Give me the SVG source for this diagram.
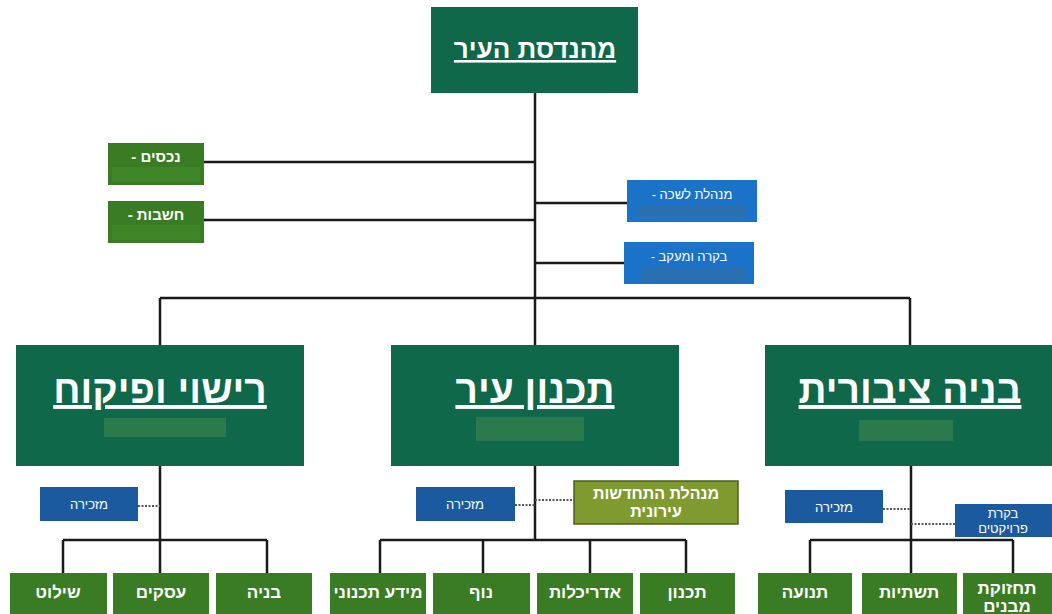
<svg xmlns="http://www.w3.org/2000/svg" width="1052" height="614" viewBox="0 0 1052 614">
<style>
text{font-family:"Liberation Sans","DejaVu Sans",sans-serif;fill:#ffffff;text-anchor:middle;direction:rtl;font-weight:bold}
.main{fill:#0f684a}
.sub{fill:#3a7c24}
.blue1{fill:#1b72c9}
.blue2{fill:#1c5a9f}
.olive{fill:#7f9b2f;stroke:#4b5e1d;stroke-width:1.5}
.line{stroke:#1a1a1a;stroke-width:2.5;fill:none}
.dot{stroke:#555;stroke-width:2;stroke-dasharray:2 1.5;fill:none}
.redg{fill:#2a7a4e}
.redb{fill:#2a6fb0}
.t1{font-size:26px;text-decoration:underline}
.t2{font-size:39px;text-decoration:underline}
.t3{font-size:17px}
.t4{font-size:15px}
.t6{font-size:16px}
.t5{font-size:13px;font-weight:normal}
</style>
<rect width="1052" height="614" fill="#ffffff"/>
<g id="connectors">
<path class="line" d="M535 93V298M160 298H910M160 298V345M535 298V345M910 298V345"/>
<path class="line" d="M204 162H535M204 220H535M535 203H627M535 263H624"/>
<path class="line" d="M160 466V540M63 540H267M63 540V573M160 540V573M267 540V573"/>
<path class="line" d="M535 466V540M380 540H686M380 540V573M483 540V573M590 540V573M686 540V573"/>
<path class="line" d="M911 466V540M810 540H1013M810 540V573M911 540V573M1013 540V573"/>
<path class="dot" d="M138 506H160M515 505H535M535 500H574M883 509H911M911 524H955"/>
</g>
<g id="top"><rect class="main" x="431" y="7" width="207" height="86"/><text class="t1" x="535" y="58">מהנדסת העיר</text></g>
<g id="nechasim"><rect class="sub" x="108" y="143" width="96" height="42"/><rect x="112" y="167" width="88" height="15" fill="#3f8629"/><text class="t4" x="156" y="162">נכסים -</text></g>
<g id="heshbonot"><rect class="sub" x="108" y="201" width="96" height="42"/><rect x="112" y="225" width="88" height="15" fill="#3f8629"/><text class="t4" x="156" y="220">חשבות -</text></g>
<g id="lishka"><rect class="blue1" x="627" y="180" width="130" height="42"/><rect class="redb" x="638" y="205" width="108" height="13"/><text class="t5" x="692" y="199">מנהלת לשכה -</text></g>
<g id="bakara"><rect class="blue1" x="624" y="242" width="130" height="42"/><rect class="redb" x="641" y="267" width="104" height="14"/><text class="t5" x="689" y="261">בקרה ומעקב -</text></g>
<g id="rishui"><rect class="main" x="16" y="345" width="288" height="121"/><rect class="redg" x="104" y="418" width="122" height="19"/><text class="t2" x="160" y="403">רישוי ופיקוח</text></g>
<g id="tichnun"><rect class="main" x="391" y="345" width="288" height="121"/><rect class="redg" x="476" y="417" width="108" height="24"/><text class="t2" x="535" y="403">תכנון עיר</text></g>
<g id="bnia"><rect class="main" x="765" y="345" width="287" height="121"/><rect class="redg" x="859" y="420" width="94" height="21"/><text class="t2" x="910" y="403">בניה ציבורית</text></g>
<g id="mazkira1"><rect class="blue2" x="40" y="487" width="98" height="34"/><text class="t5" x="89" y="509">מזכירה</text></g>
<g id="mazkira2"><rect class="blue2" x="416" y="487" width="99" height="34"/><text class="t5" x="465" y="509">מזכירה</text></g>
<g id="mazkira3"><rect class="blue2" x="785" y="490" width="98" height="33"/><text class="t5" x="834" y="512">מזכירה</text></g>
<g id="hithadshut"><rect class="olive" x="574" y="481" width="164" height="43"/><text class="t6" x="656" y="499">מנהלת התחדשות</text><text class="t6" x="656" y="517">עירונית</text></g>
<g id="bakarat"><rect class="blue2" x="955" y="504" width="97" height="33"/><text class="t5" x="1003" y="518">בקרת</text><text class="t5" x="1003" y="533">פרויקטים</text></g>
<g id="shilut"><rect class="sub" x="10" y="573" width="97" height="41"/><text class="t3" x="58" y="598">שילוט</text></g>
<g id="asakim"><rect class="sub" x="113" y="573" width="96" height="41"/><text class="t3" x="161" y="598">עסקים</text></g>
<g id="bniya"><rect class="sub" x="216" y="573" width="96" height="41"/><text class="t3" x="264" y="598">בניה</text></g>
<g id="meida"><rect class="sub" x="330" y="573" width="96" height="41"/><text class="t3" x="378" y="598">מידע תכנוני</text></g>
<g id="nof"><rect class="sub" x="433" y="573" width="97" height="41"/><text class="t3" x="481" y="598">נוף</text></g>
<g id="adrichalut"><rect class="sub" x="537" y="573" width="96" height="41"/><text class="t3" x="585" y="598">אדריכלות</text></g>
<g id="tichnun2"><rect class="sub" x="640" y="573" width="95" height="41"/><text class="t3" x="687" y="598">תכנון</text></g>
<g id="tnua"><rect class="sub" x="758" y="573" width="94" height="41"/><text class="t3" x="805" y="598">תנועה</text></g>
<g id="tashtiot"><rect class="sub" x="862" y="573" width="95" height="41"/><text class="t3" x="909" y="598">תשתיות</text></g>
<g id="tachzuka"><rect class="sub" x="963" y="573" width="89" height="41"/><text class="t3" x="1007" y="594">תחזוקת</text><text class="t3" x="1007" y="612">מבנים</text></g>
</svg>
